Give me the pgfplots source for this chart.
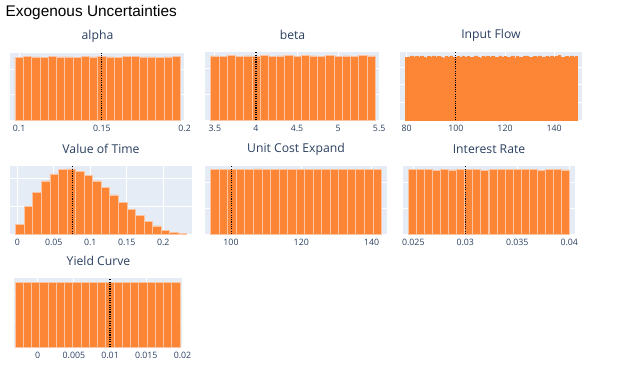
\documentclass[border=0pt]{standalone}
\usepackage{fontspec}
\setmainfont{Open Sans}
\newfontfamily\arialf{Liberation Sans}
\usepackage{pgfplots}
\pgfplotsset{compat=1.18}
\definecolor{bgc}{HTML}{E5ECF6}
\definecolor{barfill}{HTML}{FD8536}
\definecolor{barline}{HTML}{FBC4A2}
\definecolor{txtc}{HTML}{2A3F5F}
\pgfplotsset{
  panel/.style={
    scale only axis,
    axis background/.style={fill=bgc},
    axis line style={draw=none},
    grid=major,
    major grid style={white, line width=0.9pt},
    tick style={draw=none},
    scaled x ticks=false,
    yticklabels={},
    ymin=0,
    xticklabel style={font=\fontsize{8.8}{10}\selectfont, text=txtc, yshift=-1.2pt},
    title style={font=\fontsize{12.2}{14}\selectfont, text=txtc, anchor=center, at={(0.5,1)}, yshift=10.8pt},
    /pgf/number format/assume math mode=true,
  },
  hbar/.style={ybar, fill=barfill, draw=barline, line width=0.6pt},
  vl/.style={black, line width=1.2pt, dash pattern=on 1.1pt off 1.2pt},
}
\begin{document}
\begin{tikzpicture}[x=1pt,y=1pt]
\useasboundingbox (0,0) rectangle (640,373);
\node[anchor=base west, inner sep=0, font=\arialf\fontsize{15.4}{17}\selectfont] at (5.5,356) {Exogenous Uncertainties};

% alpha
\begin{axis}[panel, at={(10pt,253pt)}, anchor=south west, width=175pt, height=67pt,
  title={alpha}, xmin=0.0945, xmax=0.2002, ymax=525, ytick={0,200,400},
  xtick={0.1,0.15,0.2}, xticklabels={0.1,0.15,0.2}]
\addplot[hbar, bar width=0.005] coordinates {
(0.1,492) (0.105,496) (0.11,494) (0.115,493) (0.12,498) (0.125,494) (0.13,495) (0.135,493) (0.14,496) (0.145,494)
(0.15,497) (0.155,495) (0.16,493) (0.165,498) (0.17,496) (0.175,494) (0.18,495) (0.185,493) (0.19,495) (0.195,497)};
\addplot[vl] coordinates {(0.15,0) (0.15,525)};
\end{axis}

% beta
\begin{axis}[panel, at={(205pt,253pt)}, anchor=south west, width=175pt, height=68pt,
  title={beta}, xmin=3.38, xmax=5.51, ymax=525, ytick={0,200,400},
  xtick={3.5,4,4.5,5,5.5}, xticklabels={3.5,4,4.5,5,5.5}]
\addplot[hbar, bar width=0.1] coordinates {
(3.5,495) (3.6,493) (3.7,496) (3.8,494) (3.9,495) (4.0,493) (4.1,496) (4.2,494) (4.3,495) (4.4,497)
(4.5,494) (4.6,498) (4.7,495) (4.8,494) (4.9,496) (5.0,493) (5.1,495) (5.2,494) (5.3,498) (5.4,495)};
\addplot[vl] coordinates {(4,0) (4,525)};
\end{axis}

% Input Flow
\begin{axis}[panel, at={(400pt,253pt)}, anchor=south west, width=182pt, height=68pt,
  title={Input Flow}, xmin=77.3, xmax=151.3, ymax=154, ytick={0,40,80,120},
  xtick={80,100,120,140}, xticklabels={80,100,120,140}]
\addplot[ybar, bar width=1, fill=barfill, draw=barfill, line width=0.2pt] coordinates {
(80,142) (81,143) (82,145) (83,143) (84,144) (85,142) (86,145) (87,143) (88,141) (89,144)
(90,143) (91,145) (92,142) (93,144) (94,143) (95,141) (96,144) (97,143) (98,145) (99,142)
(100,143) (101,144) (102,142) (103,145) (104,143) (105,144) (106,142) (107,143) (108,145) (109,143)
(110,141) (111,144) (112,143) (113,145) (114,142) (115,144) (116,143) (117,142) (118,145) (119,143)
(120,144) (121,142) (122,143) (123,145) (124,141) (125,144) (126,143) (127,142) (128,144) (129,145)
(130,143) (131,142) (132,144) (133,143) (134,145) (135,142) (136,143) (137,144) (138,142) (139,145)
(140,143) (141,144) (142,146) (143,143) (144,142) (145,144) (146,143) (147,145) (148,142) (149,144)};
\addplot[vl] coordinates {(100,0) (100,154)};
\end{axis}

% Value of Time
\begin{axis}[panel, at={(10pt,139pt)}, anchor=south west, width=182pt, height=68pt,
  title={Value of Time}, xmin=-0.0100, xmax=0.2393, ymax=983, ytick={0,400,800},
  xtick={0,0.05,0.1,0.15,0.2}, xticklabels={0,0.05,0.1,0.15,0.2}]
\addplot[hbar, bar width=0.01171] coordinates {
(0.00366,144) (0.01537,400) (0.02707,596) (0.03878,768) (0.05049,868) (0.06220,932) (0.07390,940) (0.08561,900) (0.09732,844) (0.10903,768)
(0.12073,668) (0.13244,564) (0.14415,456) (0.15586,360) (0.16756,268) (0.17927,180) (0.19098,116) (0.20269,56) (0.21439,24) (0.22610,14)};
\addplot[vl] coordinates {(0.076,0) (0.076,983)};
\end{axis}

% Unit Cost Expand
\begin{axis}[panel, at={(205pt,139pt)}, anchor=south west, width=182pt, height=68pt,
  title={Unit Cost Expand}, xmin=92.6, xmax=144.4, ymax=525, ytick={0,200,400},
  xtick={100,120,140}, xticklabels={100,120,140}]
\addplot[hbar, bar width=2.43] coordinates {
(95.42,497) (97.85,497) (100.28,499) (102.71,498) (105.14,496) (107.57,502) (110.00,496) (112.43,498) (114.86,497) (117.29,497)
(119.72,497) (122.15,497) (124.58,498) (127.01,497) (129.44,496) (131.87,500) (134.30,498) (136.73,497) (139.16,497) (141.59,497)};
\addplot[vl] coordinates {(100.2,0) (100.2,525)};
\end{axis}

% Interest Rate
\begin{axis}[panel, at={(403pt,139pt)}, anchor=south west, width=172pt, height=68pt,
  title={Interest Rate}, xmin=0.02401, xmax=0.04055, ymax=525, ytick={0,200,400},
  xtick={0.025,0.03,0.035,0.04}, xticklabels={0.025,0.03,0.035,0.04}]
\addplot[hbar, bar width=0.000774] coordinates {
(0.02491,498) (0.02568,496) (0.02646,496) (0.02723,494) (0.02800,499) (0.02878,495) (0.02955,496) (0.03033,496) (0.03110,498) (0.03187,494)
(0.03265,496) (0.03342,496) (0.03420,496) (0.03497,496) (0.03574,498) (0.03652,496) (0.03729,494) (0.03807,496) (0.03884,496) (0.03961,495)};
\addplot[vl] coordinates {(0.03,0) (0.03,525)};
\end{axis}

% Yield Curve
\begin{axis}[panel, at={(14pt,26pt)}, anchor=south west, width=169pt, height=69pt,
  title={Yield Curve}, xmin=-0.00327, xmax=0.02007, ymax=530, ytick={0,200,400},
  xtick={0,0.005,0.01,0.015,0.02}, xticklabels={0,0.005,0.01,0.015,0.02}]
\addplot[hbar, bar width=0.001139] coordinates {
(-0.002561,495) (-0.001422,495) (-0.000283,497) (0.000857,495) (0.001996,496) (0.003135,495) (0.004274,496) (0.005413,495) (0.006552,497) (0.007691,496)
(0.008830,495) (0.009969,496) (0.011108,495) (0.012247,494) (0.013386,495) (0.014525,496) (0.015664,495) (0.016803,496) (0.017942,495) (0.019081,494)};
\addplot[vl] coordinates {(0.01,0) (0.01,530)};
\end{axis}
\end{tikzpicture}
\end{document}
